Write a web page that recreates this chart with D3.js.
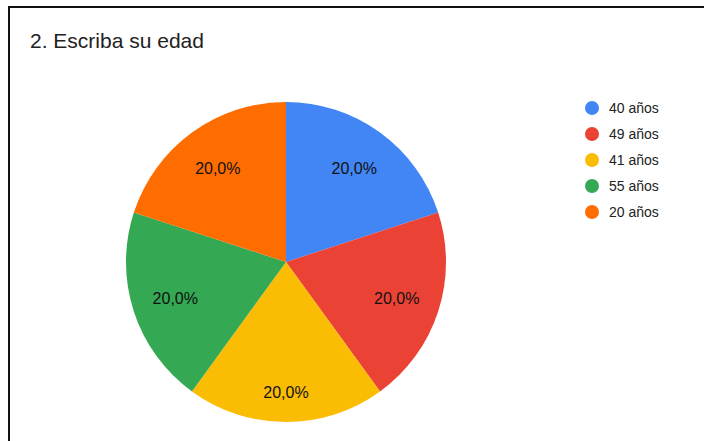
<!DOCTYPE html>
<html>
<head>
<meta charset="utf-8">
<script src="https://cdn.jsdelivr.net/npm/d3@7"></script>
<style>
  html, body { margin: 0; padding: 0; background: #fff; }
  svg { display: block; }
</style>
</head>
<body>
<svg id="chart" width="704" height="441"></svg>
<script>
const title = "2. Escriba su edad";
const categories = ["40 años", "49 años", "41 años", "55 años", "20 años"];
const values = [1, 1, 1, 1, 1];
const colors = ["#4285F4", "#EA4335", "#FBBC04", "#34A853", "#FF6D01"];

const svg = d3.select("#chart");
const W = 704, H = 441;
const font = "Arial, 'Liberation Sans', sans-serif";

svg.append("rect").attr("width", W).attr("height", H).attr("fill", "#fff");

// frame (top and left edges)
svg.append("path")
  .attr("d", `M9,${H} L9,7 L${W},7`)
  .attr("fill", "none")
  .attr("stroke", "#111")
  .attr("stroke-width", 2);

svg.append("text")
  .attr("x", 30).attr("y", 48)
  .attr("font-family", font)
  .attr("font-size", 21)
  .attr("fill", "#222")
  .text(title);

const cx = 286, cy = 262, r = 160;
const total = d3.sum(values);
const pie = d3.pie().sort(null).value(d => d.v);
const arcs = pie(categories.map((c, i) => ({ c, v: values[i], col: colors[i] })));
const arc = d3.arc().innerRadius(0).outerRadius(r);
const fmt = v => (v / total * 100).toFixed(1).replace(".", ",") + "%";

// labels sit along each slice bisector; those pointing down get pushed out a bit
function labelPos(d) {
  const a = (d.startAngle + d.endAngle) / 2;
  const down = Math.max(0, -Math.cos(a));
  const dist = r * 0.725 + 14 * Math.pow(down, 3);
  return [Math.sin(a) * dist, -Math.cos(a) * dist];
}

const g = svg.append("g").attr("transform", `translate(${cx},${cy})`);
g.selectAll("path.slice").data(arcs).join("path")
  .attr("class", "slice")
  .attr("d", arc)
  .attr("fill", d => d.data.col);

g.selectAll("text.lbl").data(arcs).join("text")
  .attr("class", "lbl")
  .attr("transform", d => `translate(${labelPos(d)})`)
  .attr("text-anchor", "middle")
  .attr("dy", "0.35em")
  .attr("font-family", font)
  .attr("font-size", 16)
  .attr("fill", "#111")
  .text(d => fmt(d.data.v));

// legend
const ly = d3.scalePoint().domain(categories).range([108, 212]);
const leg = svg.append("g");
const items = leg.selectAll("g").data(categories).join("g")
  .attr("transform", d => `translate(592,${ly(d)})`);
items.append("circle").attr("r", 7).attr("fill", (d, i) => colors[i]);
items.append("text")
  .attr("x", 17).attr("dy", "0.35em")
  .attr("font-family", font)
  .attr("font-size", 14)
  .attr("fill", "#222")
  .text(d => d);
</script>
</body>
</html>
